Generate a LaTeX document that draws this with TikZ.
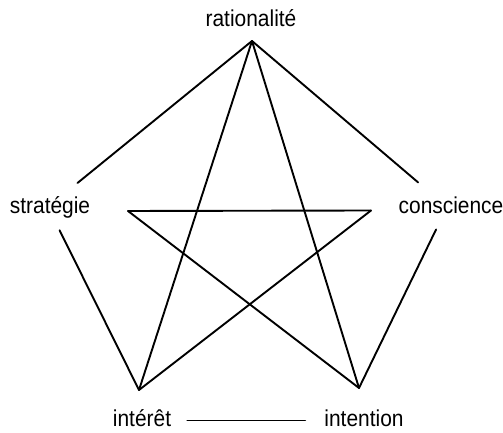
\documentclass[tikz,border=0pt]{standalone}
\usepackage{fontspec}
\setmainfont[FakeStretch=0.91]{Liberation Sans}
\begin{document}
\begin{tikzpicture}[x=1pt,y=1pt,
  lbl/.style={inner sep=0pt,anchor=base,font=\fontsize{23}{26}\selectfont},
  edge/.style={line width=1.9pt,line cap=round}]
\useasboundingbox (0,0) rectangle (503,433);
% labels
\node[lbl] (ra) at (251,406.3) {rationalité};
\node[lbl] (st) at (50,219.7) {stratégie};
\node[lbl] (co) at (451,219.7) {conscience};
\node[lbl] (it) at (142,6) {intérêt};
\node[lbl] (in) at (364,6) {intention};
% vertices
\coordinate (T) at (252,392);
\coordinate (L) at (128,222);
\coordinate (R) at (371,222.5);
\coordinate (BL) at (139,43);
\coordinate (BR) at (359,45);
\coordinate (SV) at (48,226);
\coordinate (CV) at (447,226);
% pentagon outline
\draw[edge,shorten >=38pt] (T) -- (SV);
\draw[edge,shorten <=26pt] (SV) -- (BL);
\draw[edge,shorten >=38pt] (T) -- (CV);
\draw[edge,shorten <=25pt] (CV) -- (BR);
\draw[edge,shorten <=16pt,shorten >=19pt] ([yshift=6.5pt]it.base east) -- ([yshift=6.5pt]in.base west);
% star
\draw[edge] (T) -- (BL);
\draw[edge] (T) -- (BR);
\draw[edge] (L) -- (R);
\draw[edge] (L) -- (BR);
\draw[edge] (R) -- (BL);
\end{tikzpicture}
\end{document}
